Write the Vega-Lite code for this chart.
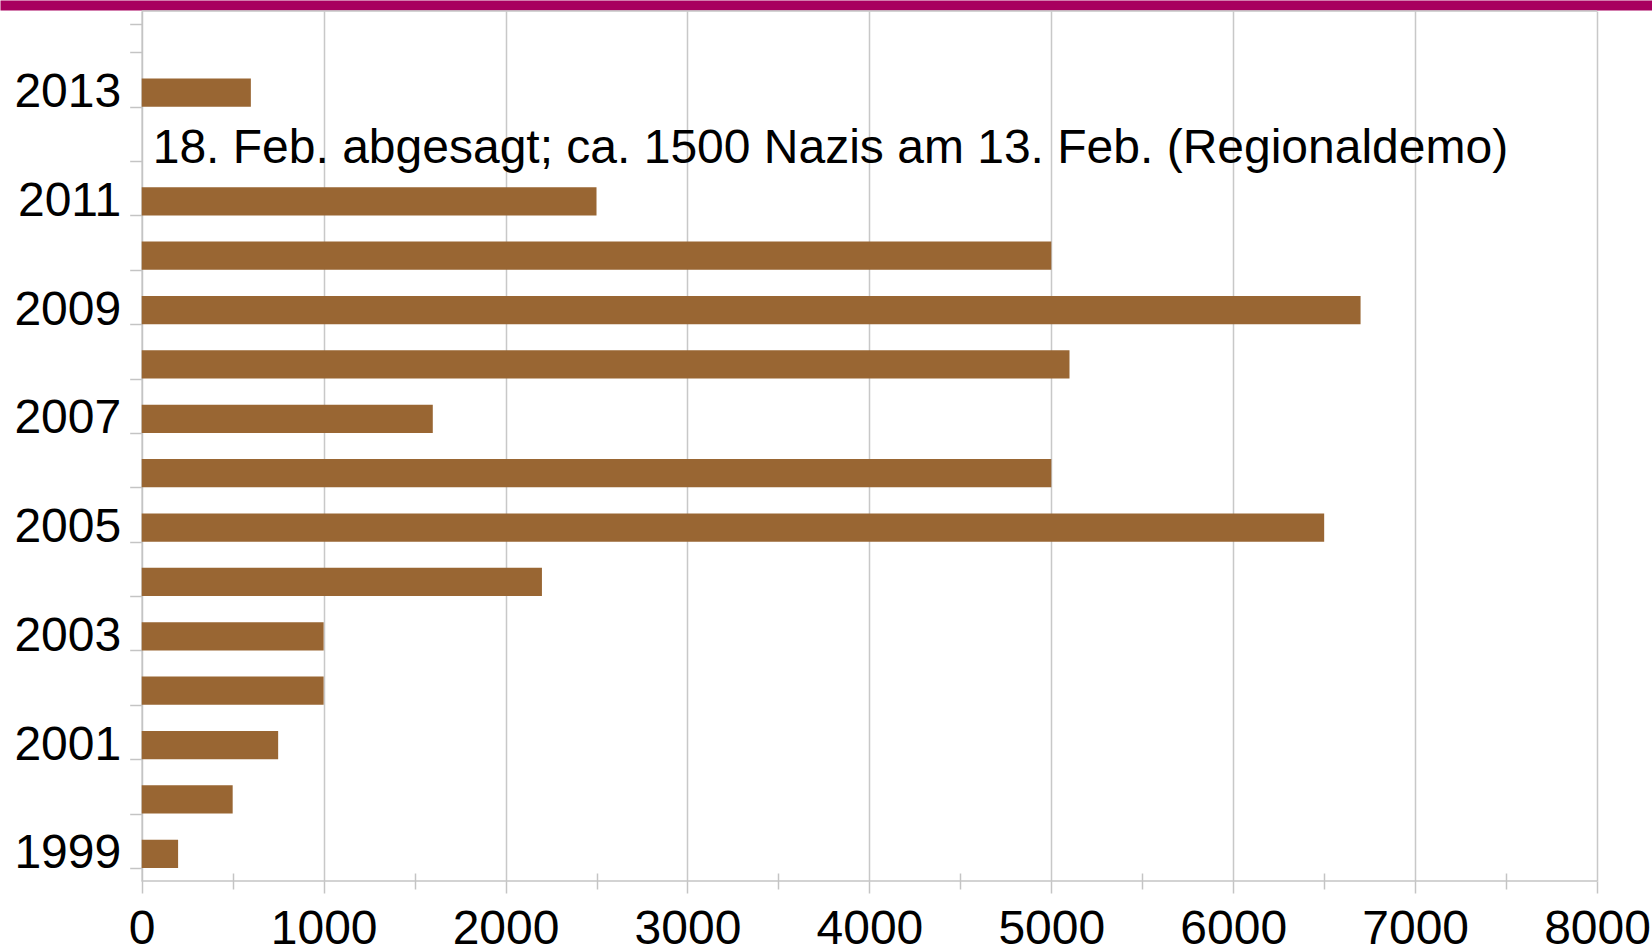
{
  "$schema": "https://vega.github.io/schema/vega-lite/v6.json",
  "autosize": {"type": "none"},
  "padding": {"left": 0, "top": 11, "right": 0, "bottom": 69},
  "width": 1652,
  "height": 870,
  "background": "white",
  "config": {"font": "Liberation Sans", "view": {"stroke": null}},
  "data": {"values": [
    {"year": "2013", "value": 600, "note": null},
    {"year": "2012", "value": null, "note": "18. Feb. abgesagt; ca. 1500 Nazis am 13. Feb. (Regionaldemo)"},
    {"year": "2011", "value": 2500, "note": null},
    {"year": "2010", "value": 5000, "note": null},
    {"year": "2009", "value": 6700, "note": null},
    {"year": "2008", "value": 5100, "note": null},
    {"year": "2007", "value": 1600, "note": null},
    {"year": "2006", "value": 5000, "note": null},
    {"year": "2005", "value": 6500, "note": null},
    {"year": "2004", "value": 2200, "note": null},
    {"year": "2003", "value": 1000, "note": null},
    {"year": "2002", "value": 1000, "note": null},
    {"year": "2001", "value": 750, "note": null},
    {"year": "2000", "value": 500, "note": null},
    {"year": "1999", "value": 200, "note": null}
  ]},
  "resolve": {"scale": {"y": "independent"}, "axis": {"x": "independent", "y": "independent"}},
  "layer": [
    {
      "mark": {"type": "bar", "color": "#996633"},
      "encoding": {
        "y": {
          "field": "year", "type": "nominal",
          "scale": {"domain": ["2014","2013","2012","2011","2010","2009","2008","2007","2006","2005","2004","2003","2002","2001","2000","1999"], "paddingInner": 0.48, "paddingOuter": 0.24},
          "axis": {
            "title": null,
            "offset": -141.7,
            "tickBand": "extent",
            "tickSize": 12,
            "tickColor": "#c4c4c4",
            "tickWidth": 1.5,
            "domainColor": "#c4c4c4",
            "domainWidth": 1.5,
            "labelFontSize": 48,
            "labelColor": "#000000",
            "labelPadding": 9,
            "labelExpr": "toNumber(datum.value) % 2 == 1 ? datum.label : ''",
            "grid": false
          }
        },
        "x": {
          "field": "value", "type": "quantitative",
          "scale": {"domain": [-779, 8302], "nice": false, "zero": false},
          "axis": {
            "title": null,
            "values": [0,1000,2000,3000,4000,5000,6000,7000,8000],
            "format": "d",
            "domain": false,
            "grid": true,
            "gridColor": "#c8c8c8",
            "gridWidth": 1.5,
            "tickSize": 12,
            "tickColor": "#c4c4c4",
            "tickWidth": 1.5,
            "labelFontSize": 48,
            "labelColor": "#000000",
            "labelPadding": 12,
            "labelFlush": false,
            "labelOverlap": false
          }
        }
      }
    },
    {
      "transform": [{"filter": "datum.note != null"}],
      "mark": {"type": "text", "align": "left", "baseline": "middle", "dx": 11, "dy": 2, "fontSize": 48, "color": "#000000"},
      "encoding": {
        "y": {
          "field": "year", "type": "nominal",
          "scale": {"domain": ["2014","2013","2012","2011","2010","2009","2008","2007","2006","2005","2004","2003","2002","2001","2000","1999"], "paddingInner": 0.48, "paddingOuter": 0.24},
          "axis": null
        },
        "x": {
          "datum": 0, "type": "quantitative",
          "axis": {
            "orient": "bottom",
            "title": null,
            "values": [500,1500,2500,3500,4500,5500,6500,7500],
            "labels": false,
            "domain": false,
            "grid": false,
            "tickSize": 16,
            "offset": -8,
            "tickColor": "#c4c4c4",
            "tickWidth": 1.5
          }
        },
        "text": {"field": "note"}
      }
    },
    {
      "data": {"values": [{"edge": 0}, {"edge": 1}]},
      "mark": {"type": "rule", "color": "#c4c4c4", "strokeWidth": 1.5},
      "encoding": {
        "y": {"field": "edge", "type": "quantitative", "scale": {"domain": [0, 1], "nice": false}, "axis": null},
        "x": {
          "datum": 0, "type": "quantitative",
          "axis": {
            "orient": "top",
            "title": null,
            "offset": 6,
            "domain": true,
            "domainColor": "#a8005f",
            "domainWidth": 10,
            "ticks": false,
            "labels": false,
            "grid": false
          }
        },
        "x2": {"datum": 8000}
      }
    }
  ]
}
